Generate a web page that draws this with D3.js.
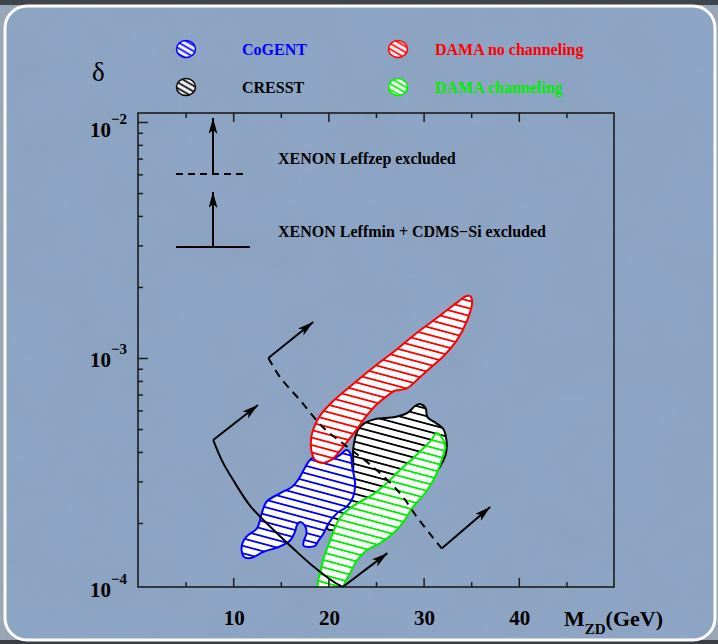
<!DOCTYPE html>
<html>
<head>
<meta charset="utf-8">
<script src="https://cdn.jsdelivr.net/npm/d3@7"></script>
<style>
  html, body { margin: 0; padding: 0; background: #9aa7b9; }
  svg { display: block; }
  text { font-family: "Liberation Serif", "Times New Roman", serif; font-weight: bold; }
  text.plain { font-weight: normal; }
</style>
</head>
<body>
<div id="chart"></div>
<script>
// mass M_ZD (GeV) and delta for each allowed region
const cogentMass  = [21.9, 22.3, 22.5, 22.8, 22.6, 21.9, 20.9, 20.0, 19.5, 18.9, 18.6, 17.4, 17.4, 17.7, 17.5, 17.0, 16.7, 16.5, 16.0, 14.9, 13.2, 11.8, 11.1, 10.9, 11.4, 12.5, 13.0, 13.5, 14.9, 16.2, 16.8, 18.3, 18.9, 20.2, 21.2];
const cogentDelta = [4.08e-4, 3.95e-4, 3.46e-4, 2.94e-4, 2.58e-4, 2.34e-4, 2.20e-4, 1.99e-4, 1.81e-4, 1.67e-4, 1.60e-4, 1.60e-4, 1.67e-4, 1.81e-4, 1.96e-4, 2.02e-4, 1.96e-4, 1.84e-4, 1.69e-4, 1.59e-4, 1.51e-4, 1.42e-4, 1.44e-4, 1.60e-4, 1.75e-4, 1.90e-4, 2.20e-4, 2.46e-4, 2.67e-4, 2.85e-4, 3.04e-4, 3.77e-4, 3.64e-4, 3.70e-4, 3.88e-4];

const cresstMass  = [29.6, 30.2, 30.4, 31.3, 32.0, 32.4, 32.3, 30.9, 28.1, 24.4, 21.2, 19.9, 20.7, 22.1, 22.6, 22.6, 22.8, 23.1, 23.8, 24.9, 27.0, 28.3, 29.1];
const cresstDelta = [6.38e-4, 6.14e-4, 5.62e-4, 5.30e-4, 5.05e-4, 4.49e-4, 3.88e-4, 3.10e-4, 2.38e-4, 2.02e-4, 1.87e-4, 1.89e-4, 2.23e-4, 2.63e-4, 3.35e-4, 4.08e-4, 4.58e-4, 4.95e-4, 5.30e-4, 5.51e-4, 5.62e-4, 5.85e-4, 6.26e-4];

const damaNoChMass  = [35.1, 34.6, 33.5, 32.0, 30.7, 29.3, 28.3, 27.5, 26.9, 26.3, 25.0, 24.0, 23.0, 22.1, 21.2, 20.4, 19.3, 18.6, 18.2, 18.2, 18.5, 19.1, 20.5, 22.6, 24.9, 27.2, 29.3, 31.7, 33.6, 34.5, 34.9];
const damaNoChDelta = [17.3e-4, 14.5e-4, 11.9e-4, 10.1e-4, 9.07e-4, 8.07e-4, 7.46e-4, 7.32e-4, 7.25e-4, 6.97e-4, 6.32e-4, 5.68e-4, 5.00e-4, 4.49e-4, 4.04e-4, 3.73e-4, 3.59e-4, 3.70e-4, 4.08e-4, 4.63e-4, 5.10e-4, 5.68e-4, 6.57e-4, 7.76e-4, 9.25e-4, 10.9e-4, 12.8e-4, 15.1e-4, 17.3e-4, 18.3e-4, 18.3e-4];

const damaChMass  = [31.4, 32.0, 32.3, 32.0, 31.4, 30.4, 28.9, 27.8, 26.8, 25.4, 24.1, 23.0, 22.3, 21.6, 21.5, 19.1, 18.9, 19.2, 19.5, 20.0, 20.5, 21.2, 21.9, 23.1, 24.6, 26.0, 27.3, 28.7, 29.9, 30.8];
const damaChDelta = [4.81e-4, 4.54e-4, 4.20e-4, 3.81e-4, 3.26e-4, 2.76e-4, 2.34e-4, 2.00e-4, 1.81e-4, 1.64e-4, 1.54e-4, 1.39e-4, 1.23e-4, 1.08e-4, 0.99e-4, 0.99e-4, 1.12e-4, 1.26e-4, 1.42e-4, 1.61e-4, 1.83e-4, 2.10e-4, 2.25e-4, 2.43e-4, 2.63e-4, 2.92e-4, 3.29e-4, 3.70e-4, 4.12e-4, 4.49e-4];

// exclusion boundaries (XENON Leffmin + CDMS-Si solid, XENON Leffzep dashed)
const leffminMass  = [7.9, 8.9, 10.0, 11.8, 14.6, 16.3, 18.4, 20.5, 21.5];
const leffminDelta = [4.49e-4, 3.62e-4, 3.04e-4, 2.36e-4, 1.81e-4, 1.56e-4, 1.31e-4, 1.13e-4, 1.071e-4];
const leffminArrows = [[7.9, 4.49e-4, 12.6, 6.32e-4], [21.5, 1.071e-4, 26.2, 1.49e-4]];

const leffzepMass  = [13.7, 14.9, 17.0, 19.4, 22.0, 24.7, 27.5, 29.3, 31.0, 31.9];
const leffzepDelta = [10.0e-4, 8.31e-4, 6.64e-4, 5.10e-4, 4.20e-4, 3.45e-4, 2.68e-4, 2.12e-4, 1.73e-4, 1.56e-4];
const leffzepArrows = [[13.7, 10.0e-4, 18.4, 14.2e-4], [31.9, 1.56e-4, 37.0, 2.34e-4]];

const xMajor = [10, 20, 30, 40];
const xMinor = [5, 15, 25, 35, 45];
const yMajor = [1e-4, 1e-3, 1e-2];
const yMinor = [2e-4, 3e-4, 4e-4, 5e-4, 6e-4, 7e-4, 8e-4, 9e-4, 2e-3, 3e-3, 4e-3, 5e-3, 6e-3, 7e-3, 8e-3, 9e-3];

const regions = [
  {name: 'CRESST', color: '#000000', mass: cresstMass, delta: cresstDelta},
  {name: 'CoGENT', color: '#0000ff', mass: cogentMass, delta: cogentDelta},
  {name: 'DAMA no channeling', color: '#ff0000', mass: damaNoChMass, delta: damaNoChDelta},
  {name: 'DAMA channeling', color: '#00ee00', mass: damaChMass, delta: damaChDelta}
];

const width = 718, height = 644;
const plot = {left: 138, right: 614, top: 113, bottom: 587};

const svg = d3.select('#chart').append('svg')
  .attr('width', width)
  .attr('height', height);

const defs = svg.append('defs');

// background texture
const tex = defs.append('filter').attr('id', 'tex').attr('x', 0).attr('y', 0).attr('width', 1).attr('height', 1);
tex.append('feTurbulence').attr('type', 'fractalNoise').attr('baseFrequency', 0.018).attr('numOctaves', 4).attr('seed', 3);
tex.append('feColorMatrix').attr('values', '0 0 0 0 0.2  0 0 0 0 0.25  0 0 0 0 0.35  0 0 0 0.3 -0.08');

defs.append('clipPath').attr('id', 'plotclip')
  .append('rect')
  .attr('x', plot.left).attr('y', plot.top)
  .attr('width', plot.right - plot.left).attr('height', plot.bottom - plot.top);

// hatch fills
function hatch(id, color, size, angle) {
  const p = defs.append('pattern')
    .attr('id', id)
    .attr('patternUnits', 'userSpaceOnUse')
    .attr('width', 12).attr('height', size)
    .attr('patternTransform', `rotate(${angle})`);
  p.append('rect').attr('width', 12).attr('height', size).attr('fill', '#fff');
  p.append('line').attr('x1', 0).attr('x2', 12)
    .attr('y1', size / 2).attr('y2', size / 2)
    .attr('stroke', color).attr('stroke-width', 1.8);
}
regions.forEach((r, i) => {
  hatch('h' + i, r.color, 7.2, 15);
  hatch('l' + i, r.color, 5, 30);
});

const marker = defs.append('marker')
  .attr('id', 'arrow')
  .attr('markerUnits', 'userSpaceOnUse')
  .attr('markerWidth', 18).attr('markerHeight', 10)
  .attr('refX', 16).attr('refY', 4.5)
  .attr('orient', 'auto');
marker.append('path').attr('d', 'M0,0 L16,4.5 L0,9 L4,4.5 Z').attr('fill', '#000');

// panel
svg.append('rect').attr('width', width).attr('height', 5).attr('fill', '#40444c');
svg.append('rect').attr('y', 640).attr('width', width).attr('height', 4).attr('fill', '#3a3d44');
svg.append('rect')
  .attr('x', 5).attr('y', 6).attr('width', 710).attr('height', 634).attr('rx', 22)
  .attr('fill', '#8ea6c6');
svg.append('rect')
  .attr('x', 5).attr('y', 6).attr('width', 710).attr('height', 634).attr('rx', 22)
  .attr('fill', '#fff').attr('filter', 'url(#tex)');
svg.append('rect')
  .attr('x', 5).attr('y', 6).attr('width', 710).attr('height', 634).attr('rx', 22)
  .attr('fill', 'none').attr('stroke', '#fff').attr('stroke-width', 3);

const x = d3.scaleLinear().domain([0, 50]).range([plot.left, plot.right]);
const y = d3.scaleLog().domain([1.071e-4, 1.0916e-2]).range([plot.bottom, plot.top]);

const area = d3.line()
  .x(d => x(d[0]))
  .y(d => y(d[1]))
  .curve(d3.curveCatmullRomClosed.alpha(0.5));

const g = svg.append('g').attr('clip-path', 'url(#plotclip)');

regions.forEach((r, i) => {
  const pts = r.mass.map((m, k) => [m, r.delta[k]]);
  g.append('path')
    .attr('d', area(pts))
    .attr('fill', `url(#h${i})`)
    .attr('stroke', r.color)
    .attr('stroke-width', 2)
    .attr('stroke-linejoin', 'round');
});

const curve = d3.line()
  .x(d => x(d[0]))
  .y(d => y(d[1]))
  .curve(d3.curveCatmullRom.alpha(0.5));

function boundary(mass, delta, arrows, dash) {
  g.append('path')
    .attr('d', curve(mass.map((m, k) => [m, delta[k]])))
    .attr('fill', 'none')
    .attr('stroke', '#000')
    .attr('stroke-width', 2)
    .attr('stroke-dasharray', dash);
  arrows.forEach(a => {
    svg.append('line')
      .attr('x1', x(a[0])).attr('y1', y(a[1]))
      .attr('x2', x(a[2])).attr('y2', y(a[3]))
      .attr('stroke', '#000').attr('stroke-width', 2)
      .attr('marker-end', 'url(#arrow)');
  });
}
boundary(leffminMass, leffminDelta, leffminArrows, null);
boundary(leffzepMass, leffzepDelta, leffzepArrows, '8,6');

// axes (ticks point inward)
const axisColor = '#1c1c1c';
function ticks(axis) {
  return sel => sel.call(axis).call(s => s.select('.domain').remove())
    .call(s => s.selectAll('.tick line').attr('stroke', axisColor).attr('stroke-width', 1.5));
}
svg.append('g').attr('transform', `translate(0,${plot.bottom})`)
  .call(ticks(d3.axisBottom(x).tickValues(xMajor).tickSize(-9).tickFormat('')));
svg.append('g').attr('transform', `translate(0,${plot.bottom})`)
  .call(ticks(d3.axisBottom(x).tickValues(xMinor).tickSize(-5).tickFormat('')));
svg.append('g').attr('transform', `translate(0,${plot.top})`)
  .call(ticks(d3.axisTop(x).tickValues(xMajor).tickSize(-9).tickFormat('')));
svg.append('g').attr('transform', `translate(0,${plot.top})`)
  .call(ticks(d3.axisTop(x).tickValues(xMinor).tickSize(-5).tickFormat('')));
svg.append('g').attr('transform', `translate(${plot.left},0)`)
  .call(ticks(d3.axisLeft(y).tickValues(yMajor.filter(v => v >= 1.071e-4)).tickSize(-10).tickFormat('')));
svg.append('g').attr('transform', `translate(${plot.left},0)`)
  .call(ticks(d3.axisLeft(y).tickValues(yMinor).tickSize(-5).tickFormat('')));

svg.append('rect')
  .attr('x', plot.left).attr('y', plot.top)
  .attr('width', plot.right - plot.left).attr('height', plot.bottom - plot.top)
  .attr('fill', 'none').attr('stroke', axisColor).attr('stroke-width', 1.6);

// tick labels
svg.selectAll('.xlab').data(xMajor).enter().append('text')
  .attr('class', 'xlab')
  .attr('x', d => x(d) + 1).attr('y', 625)
  .attr('text-anchor', 'middle')
  .attr('font-size', 21)
  .text(d => d);

yMajor.forEach(v => {
  const yy = Math.min(Math.max(y(v) + 9, plot.top + 24), plot.bottom + 10);
  const t = svg.append('text')
    .attr('x', 127).attr('y', yy)
    .attr('text-anchor', 'end')
    .attr('font-size', 21);
  t.append('tspan').text('10');
  t.append('tspan').attr('dy', -13).attr('font-size', 15)
    .text('\u2212' + Math.round(-Math.log10(v)));
});

// axis titles
svg.append('text').attr('class', 'plain').attr('x', 92).attr('y', 81)
  .attr('font-size', 27).text('\u03b4');
const xt = svg.append('text').attr('x', 564).attr('y', 626).attr('font-size', 22);
xt.append('tspan').text('M');
xt.append('tspan').attr('dy', 8).attr('font-size', 15).text('ZD');
xt.append('tspan').attr('dy', -8).text('(GeV)');

// legend
const legend = [
  {i: 1, cx: 186, cy: 49, tx: 242},
  {i: 0, cx: 186, cy: 87, tx: 242},
  {i: 2, cx: 398, cy: 49, tx: 435},
  {i: 3, cx: 398, cy: 87, tx: 435}
];
legend.forEach(l => {
  const r = regions[l.i];
  svg.append('ellipse')
    .attr('cx', l.cx).attr('cy', l.cy).attr('rx', 9.5).attr('ry', 8.5)
    .attr('fill', `url(#l${l.i})`)
    .attr('stroke', r.color).attr('stroke-width', 1.5);
  svg.append('text')
    .attr('x', l.tx).attr('y', l.cy + 5.5)
    .attr('font-size', 16)
    .attr('fill', r.color)
    .text(r.name);
});

// boundary key
const key = svg.append('g');
key.append('line').attr('x1', 176).attr('x2', 243).attr('y1', 174).attr('y2', 174)
  .attr('stroke', '#000').attr('stroke-width', 2).attr('stroke-dasharray', '7,5');
key.append('line').attr('x1', 213).attr('x2', 213).attr('y1', 174).attr('y2', 118)
  .attr('stroke', '#000').attr('stroke-width', 2).attr('marker-end', 'url(#arrow)');
key.append('line').attr('x1', 176).attr('x2', 250).attr('y1', 247).attr('y2', 247)
  .attr('stroke', '#000').attr('stroke-width', 2);
key.append('line').attr('x1', 213).attr('x2', 213).attr('y1', 247).attr('y2', 192)
  .attr('stroke', '#000').attr('stroke-width', 2).attr('marker-end', 'url(#arrow)');
key.append('text').attr('x', 278).attr('y', 164).attr('font-size', 16)
  .text('XENON Leffzep excluded');
key.append('text').attr('x', 278).attr('y', 237).attr('font-size', 16)
  .text('XENON Leffmin + CDMS\u2212Si excluded');
</script>
</body>
</html>
